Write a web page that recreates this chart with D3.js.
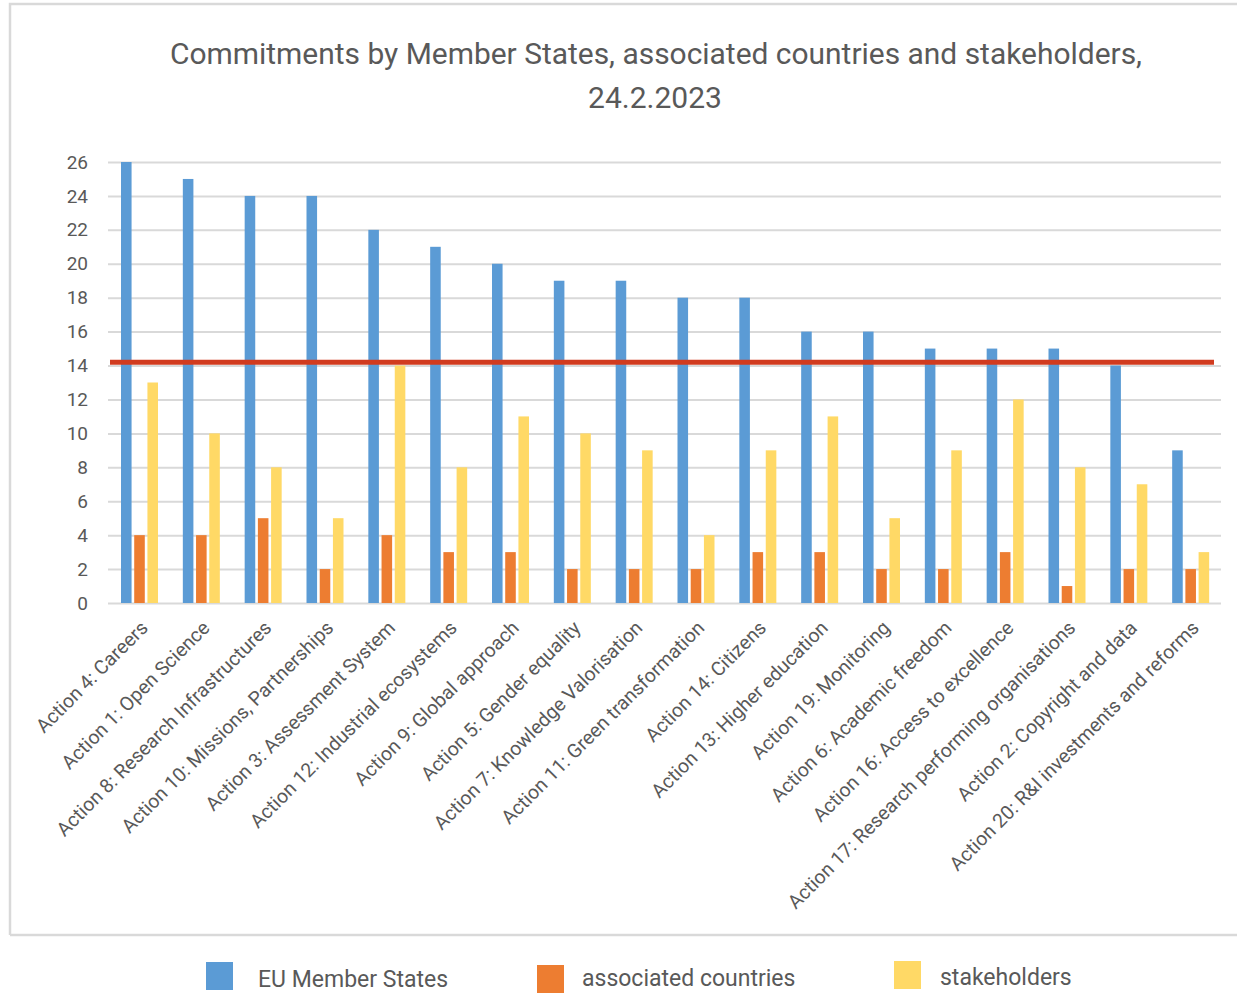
<!DOCTYPE html>
<html>
<head>
<meta charset="utf-8">
<script src="https://cdn.jsdelivr.net/npm/d3@7"></script>
<style>
  body { margin: 0; background: #fff; }
  text { font-family: Roboto, "Noto Sans", sans-serif; fill: #595959; }
</style>
</head>
<body>
<div id="chart"></div>
<script>
const categories = [
  'Action 4: Careers',
  'Action 1: Open Science',
  'Action 8: Research Infrastructures',
  'Action 10: Missions, Partnerships',
  'Action 3: Assessment System',
  'Action 12: Industrial ecosystems',
  'Action 9: Global approach',
  'Action 5: Gender equality',
  'Action 7: Knowledge Valorisation',
  'Action 11: Green transformation',
  'Action 14: Citizens',
  'Action 13: Higher education',
  'Action 19: Monitoring',
  'Action 6: Academic freedom',
  'Action 16: Access to excellence',
  'Action 17: Research performing organisations',
  'Action 2: Copyright and data',
  'Action 20: R&I investments and reforms'
];
const euMemberStates =      [26, 25, 24, 24, 22, 21, 20, 19, 19, 18, 18, 16, 16, 15, 15, 15, 14, 9];
const associatedCountries = [4, 4, 5, 2, 4, 3, 3, 2, 2, 2, 3, 3, 2, 2, 3, 1, 2, 2];
const stakeholders =        [13, 10, 8, 5, 14, 8, 11, 10, 9, 4, 9, 11, 5, 9, 12, 8, 7, 3];
const seriesNames = ['EU Member States', 'associated countries', 'stakeholders'];
const yTicks = [0, 2, 4, 6, 8, 10, 12, 14, 16, 18, 20, 22, 24, 26];
const referenceLine = 14.2;

const colors = ['#5b9bd5', '#ed7d31', '#ffd966'];
const width = 1237, height = 994;

const svg = d3.select('#chart')
  .append('svg')
  .attr('width', width)
  .attr('height', height);

// frame around the chart area
const frame = svg.append('g')
  .attr('stroke', '#d9d9d9')
  .attr('stroke-width', 2.5)
  .attr('fill', 'none');
frame.append('path').attr('d', 'M10,935 L10,4 L1237,4');
frame.append('path').attr('d', 'M10,935 L1237,935');

// title
svg.append('text')
  .attr('x', 656).attr('y', 64)
  .attr('text-anchor', 'middle')
  .attr('textLength', 972)
  .attr('lengthAdjust', 'spacingAndGlyphs')
  .style('font-size', '30px')
  .text('Commitments by Member States, associated countries and stakeholders,');
svg.append('text')
  .attr('x', 655).attr('y', 108)
  .attr('text-anchor', 'middle')
  .style('font-size', '30px')
  .text('24.2.2023');

const plot = { left: 108, right: 1221, top: 162, bottom: 603 };

const x = d3.scaleBand()
  .domain(categories)
  .range([plot.left, plot.right]);

const xInner = d3.scaleBand()
  .domain(seriesNames)
  .range([13, 50])
  .paddingInner(0.2);

const y = d3.scaleLinear()
  .domain([0, 26])
  .range([plot.bottom, plot.top]);

// gridlines + y labels
const yAxis = svg.append('g')
  .attr('transform', `translate(${plot.left},0)`)
  .call(d3.axisLeft(y)
    .tickValues(yTicks)
    .tickSize(-(plot.right - plot.left))
    .tickPadding(20));
yAxis.select('.domain').remove();
yAxis.selectAll('line')
  .attr('stroke', '#d9d9d9')
  .attr('stroke-width', 2);
yAxis.selectAll('text')
  .style('font-size', '19px')
  .style('fill', '#595959');

// bars
const rows = categories.map((c, i) => ({
  category: c,
  values: [euMemberStates[i], associatedCountries[i], stakeholders[i]]
}));

const groups = svg.selectAll('.group')
  .data(rows)
  .enter()
  .append('g')
  .attr('class', 'group')
  .attr('transform', (d) => `translate(${x(d.category)},0)`);

groups.selectAll('rect')
  .data((d) => d.values.map((v, j) => ({ name: seriesNames[j], value: v, j })))
  .enter()
  .append('rect')
  .attr('x', (d) => xInner(d.name))
  .attr('width', xInner.bandwidth())
  .attr('y', (d) => y(d.value))
  .attr('height', (d) => y(0) - y(d.value))
  .style('fill', (d) => colors[d.j]);

// red reference line
svg.append('line')
  .attr('x1', plot.left + 2)
  .attr('x2', plot.right - 7)
  .attr('y1', y(referenceLine))
  .attr('y2', y(referenceLine))
  .attr('stroke', '#d13b1f')
  .attr('stroke-width', 5);

// x labels
const xAxis = svg.append('g')
  .attr('transform', `translate(0,${plot.bottom})`)
  .call(d3.axisBottom(x).tickSize(0));
xAxis.select('.domain').remove();
xAxis.selectAll('text')
  .style('font-size', '19.5px')
  .style('fill', '#595959')
  .attr('text-anchor', 'end')
  .attr('dy', 0)
  .attr('transform', 'translate(8,24) rotate(-45)');

// legend
const legendX = [206, 537, 894];
const legendY = [962, 965, 961];
const legendTextGap = [52, 45, 46];
const legendTextY = [25, 21, 24];
const legend = svg.selectAll('.legend')
  .data(seriesNames)
  .enter()
  .append('g')
  .attr('class', 'legend')
  .attr('transform', (d, i) => `translate(${legendX[i]},${legendY[i]})`);
legend.append('rect')
  .attr('width', 27)
  .attr('height', 28)
  .style('fill', (d, i) => colors[i]);
legend.append('text')
  .attr('x', (d, i) => legendTextGap[i])
  .attr('y', (d, i) => legendTextY[i])
  .style('font-size', '23px')
  .text((d) => d);
</script>
</body>
</html>
